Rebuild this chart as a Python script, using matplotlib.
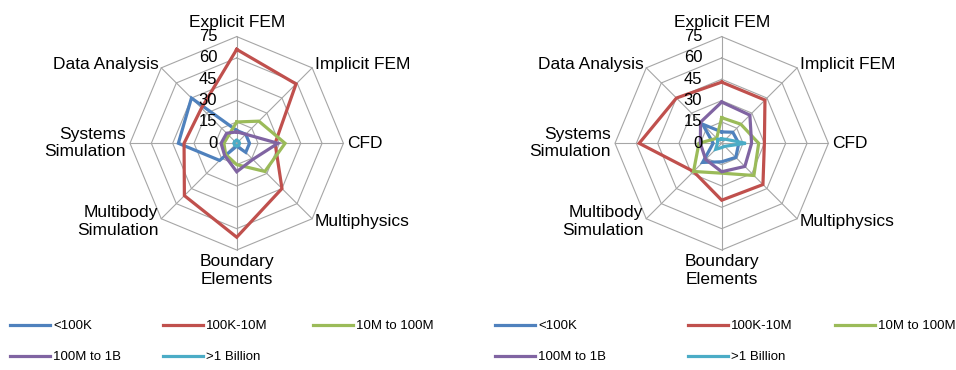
"""
Radar charts: simulation workload mix by problem size
"""

import matplotlib.pyplot as plt
import numpy as np
from matplotlib.lines import Line2D
from matplotlib.transforms import offset_copy

plt.rcParams['font.family'] = ['Liberation Sans', 'DejaVu Sans']

categories = ['Explicit FEM', 'Implicit FEM', 'CFD', 'Multiphysics',
              'Boundary\nElements', 'Multibody\nSimulation',
              'Systems\nSimulation', 'Data Analysis']
series_names = ['<100K', '100K-10M', '10M to 100M', '100M to 1B', '>1 Billion']
colors = ['#4F81BD', '#C0504D', '#9BBB59', '#8064A2', '#4BACC6']
radial_ticks = [0, 15, 30, 45, 60, 75]

# left chart
left_lt100k = [9, 9, 9, 9, 2, 17, 41, 45]
left_100k_10m = [66, 59, 27, 45, 66, 52, 37, 35]
left_10m_100m = [15, 22, 34, 28, 15, 11, 9, 8]
left_100m_1b = [8, 9, 29, 16, 20, 12, 11, 10]
left_gt1b = [2, 2, 2, 2, 2, 2, 2, 2]

# right chart
right_lt100k = [8, 11, 12, 14, 13, 19, 6, 19]
right_100k_10m = [43, 43, 30, 41, 40, 28, 58, 45]
right_10m_100m = [18, 19, 26, 32, 21, 28, 16, 5]
right_100m_1b = [29, 28, 21, 23, 20, 16, 15, 21]
right_gt1b = [3, 4, 17, 3, 3, 6, 3, 4]

W, H = 956, 370
fig = plt.figure(figsize=(W / 100, H / 100), dpi=100)

angles = np.arange(len(categories)) * 2 * np.pi / len(categories)
closed = np.append(angles, angles[0])
grid_color = '#A6A6A6'


def draw_radar(cx, cy, radius, data):
    rect = [(cx - radius) / W, (H - cy - radius) / H, 2 * radius / W, 2 * radius / H]
    ax = fig.add_axes(rect, projection='polar')
    ax.set_theta_offset(np.pi / 2)
    ax.set_theta_direction(-1)
    ax.set_ylim(0, radial_ticks[-1])
    ax.spines['polar'].set_visible(False)
    ax.set_xticks([])
    ax.set_yticks([])
    ax.grid(False)
    ax.patch.set_visible(False)

    # octagon grid and spokes
    for level in radial_ticks[1:]:
        ax.plot(closed, [level] * len(closed), color=grid_color, lw=0.8,
                zorder=1, clip_on=False)
    for a in angles:
        ax.plot([a, a], [0, radial_ticks[-1]], color=grid_color, lw=0.8,
                zorder=1, clip_on=False)

    for values, color in zip(data, colors):
        ax.plot(closed, values + values[:1], color=color, lw=2.3,
                zorder=3, clip_on=False, solid_joinstyle='miter')

    # radial tick labels left of the top spoke
    tick_tr = offset_copy(ax.transData, fig=fig, x=-14, y=0, units='points')
    for v in radial_ticks:
        ax.text(0, v, str(v), transform=tick_tr, ha='right', va='center',
                fontsize=12, zorder=4)

    # category labels around the outside
    for a, name in zip(angles, categories):
        s, c = np.sin(a), np.cos(a)
        ha = 'center' if abs(s) < 1e-6 else ('left' if s > 0 else 'right')
        va = 'center' if abs(c) < 1e-6 else ('bottom' if c > 0 else 'top')
        if abs(s) > 1e-6 and abs(c) > 1e-6:
            va = 'center'
        pad = 4.5 if c > 0.99 else 3
        tr = offset_copy(ax.transData, fig=fig, x=pad * s, y=pad * c, units='points')
        ax.text(a, radial_ticks[-1], name, transform=tr, ha=ha, va=va,
                fontsize=12.5, linespacing=1.2)
    return ax


draw_radar(236.7, 143.3, 106.7,
           [left_lt100k, left_100k_10m, left_10m_100m, left_100m_1b, left_gt1b])
draw_radar(721.7, 143.3, 106.7,
           [right_lt100k, right_100k_10m, right_10m_100m, right_100m_1b, right_gt1b])

# legend entries, one per series under each chart
legend_x = [[10, 163, 313, 10, 163], [495, 688, 835, 495, 688]]
legend_y = [326, 326, 326, 357, 357]
for xs in legend_x:
    for name, color, x, y in zip(series_names, colors, xs, legend_y):
        handle = Line2D([], [], color=color, lw=2.3)
        fig.legend([handle], [name], loc='center left',
                   bbox_to_anchor=(x / W, 1 - y / H), frameon=False,
                   borderpad=0, borderaxespad=0, handlelength=3.0,
                   handletextpad=0.25, fontsize=9.5)

fig.savefig('out.png', dpi=100)
